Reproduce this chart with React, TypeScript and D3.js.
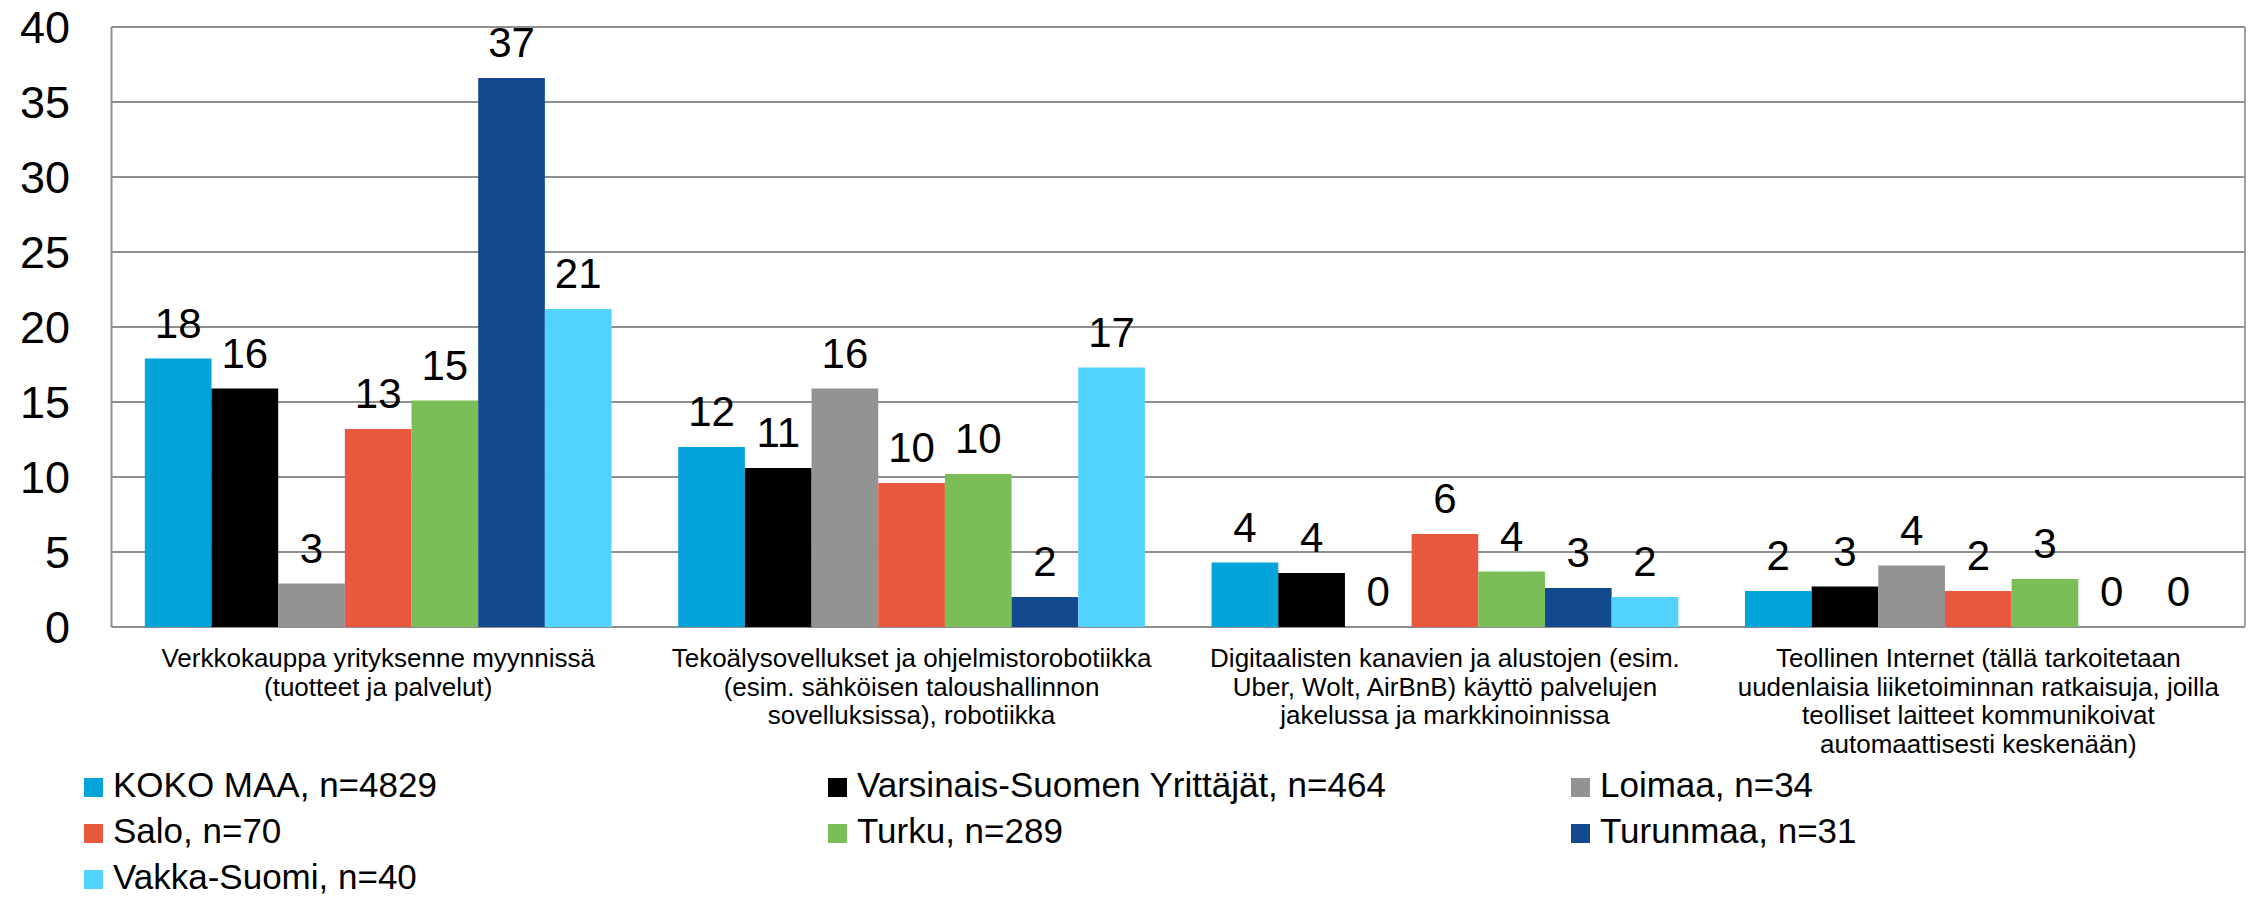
import React from "react";
import * as d3 from "d3";

const categories = [
  ["Verkkokauppa yrityksenne myynnissä", "(tuotteet ja palvelut)"],
  ["Tekoälysovellukset ja ohjelmistorobotiikka", "(esim. sähköisen taloushallinnon", "sovelluksissa), robotiikka"],
  ["Digitaalisten kanavien ja alustojen (esim.", "Uber, Wolt, AirBnB) käyttö palvelujen", "jakelussa ja markkinoinnissa"],
  ["Teollinen Internet (tällä tarkoitetaan", "uudenlaisia liiketoiminnan ratkaisuja, joilla", "teolliset laitteet kommunikoivat", "automaattisesti keskenään)"],
];

const seriesNames = [
  "KOKO MAA, n=4829",
  "Varsinais-Suomen Yrittäjät, n=464",
  "Loimaa, n=34",
  "Salo, n=70",
  "Turku, n=289",
  "Turunmaa, n=31",
  "Vakka-Suomi, n=40",
];

const kokoMaa = [17.9, 12.0, 4.3, 2.4];
const varsinaisSuomi = [15.9, 10.6, 3.6, 2.7];
const loimaa = [2.9, 15.9, 0, 4.1];
const salo = [13.2, 9.6, 6.2, 2.4];
const turku = [15.1, 10.2, 3.7, 3.2];
const turunmaa = [36.6, 2.0, 2.6, 0];
const vakkaSuomi = [21.2, 17.3, 2.0, 0];

const seriesValues = [kokoMaa, varsinaisSuomi, loimaa, salo, turku, turunmaa, vakkaSuomi];
const colors = ["#03A4DA", "#000000", "#939393", "#E8583F", "#7BBD56", "#134A8E", "#52D3FE"];
const yTicks = [0, 5, 10, 15, 20, 25, 30, 35, 40];

const FONT = "'Liberation Sans', Arial, Helvetica, sans-serif";

export default function App() {
  const W = 2260, H = 897;
  const plotLeft = 111.5, plotRight = 2245;
  const yBottom = 627, yTop = 27;

  const catIdx = categories.map((_, i) => String(i));
  const x0 = d3.scaleBand().domain(catIdx).range([plotLeft, plotRight]).paddingInner(0).paddingOuter(0);
  const x1 = d3.scaleBand().domain(seriesNames).range([0, x0.bandwidth()]).paddingInner(0).paddingOuter(0.5);
  const y = d3.scaleLinear().domain([0, 40]).range([yBottom, yTop]);

  const legendCols = [84, 828, 1571];
  const legendRows = [797, 843, 889];

  return (
    <svg width={W} height={H} style={{ position: "absolute", left: 0, top: 0, background: "#fff" }} fontFamily={FONT}>
      <rect x={0} y={0} width={W} height={H} fill="#fff" />
      {yTicks.map((t) => (
        <line key={t} x1={plotLeft} x2={plotRight} y1={y(t)} y2={y(t)} stroke="#8f8f8f" strokeWidth={2} />
      ))}
      <line x1={plotLeft} x2={plotLeft} y1={yTop} y2={yBottom} stroke="#8f8f8f" strokeWidth={2} />
      <line x1={plotRight} x2={plotRight} y1={yTop} y2={yBottom} stroke="#a0a0a0" strokeWidth={2} />
      {yTicks.map((t) => (
        <text key={t} x={70} y={y(t)} dy="0.36em" textAnchor="end" fontSize={45} fill="#000">{t}</text>
      ))}
      {categories.map((_, ci) => (
        <g key={ci} transform={`translate(${x0(String(ci))},0)`}>
          {seriesNames.map((s, si) => {
            const v = seriesValues[si][ci];
            const bx = x1(s)!;
            return (
              <g key={s}>
                {v > 0 && (
                  <rect x={bx} y={y(v)} width={x1.bandwidth()} height={y(0) - y(v)} fill={colors[si]} />
                )}
                <text x={bx + x1.bandwidth() / 2} y={y(v) - 21} textAnchor="middle" fontSize={42} fill="#000">
                  {Math.round(v)}
                </text>
              </g>
            );
          })}
        </g>
      ))}
      {categories.map((lines, ci) => (
        <text key={ci} textAnchor="middle" fontSize={26} fill="#000">
          {lines.map((l, li) => (
            <tspan key={li} x={x0(String(ci))! + x0.bandwidth() / 2} y={667 + li * 28.5}>{l}</tspan>
          ))}
        </text>
      ))}
      {seriesNames.map((s, i) => {
        const col = i % 3, row = Math.floor(i / 3);
        const lx = legendCols[col], ly = legendRows[row];
        return (
          <g key={s}>
            <rect x={lx} y={ly - 19} width={19} height={19} fill={colors[i]} />
            <text x={lx + 29} y={ly} fontSize={35} fill="#000">{s}</text>
          </g>
        );
      })}
    </svg>
  );
}
